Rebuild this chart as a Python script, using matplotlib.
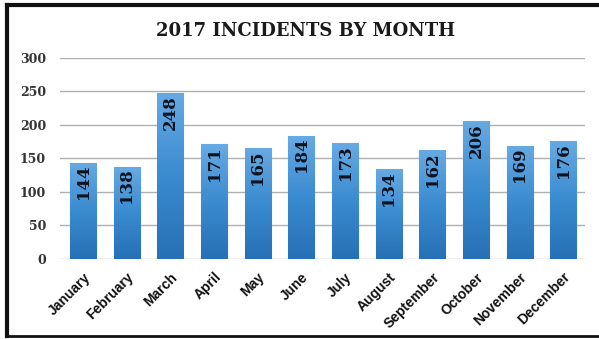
import numpy as np
import matplotlib.pyplot as plt
from matplotlib.lines import Line2D

months = ['January', 'February', 'March', 'April', 'May', 'June',
          'July', 'August', 'September', 'October', 'November', 'December']
incidents = [144, 138, 248, 171, 165, 184, 173, 134, 162, 206, 169, 176]
yticks = [0, 50, 100, 150, 200, 250, 300]

fig = plt.figure(figsize=(5.99, 3.39), dpi=100)
ax = fig.add_axes([0.100, 0.236, 0.877, 0.593])

x = np.arange(len(months))
bars = ax.bar(x, incidents, width=0.6, color='#3a8bd0', edgecolor='#7ab8ea',
              linewidth=0.8, zorder=2)

# vertical gradient inside each bar, lighter toward the top
grad = np.linspace(0, 1, 256).reshape(-1, 1)
cmap = plt.matplotlib.colors.LinearSegmentedColormap.from_list(
    'barblue', ['#2770b5', '#3a8bd0', '#68aae3'])
for b in bars:
    x0, w, h = b.get_x(), b.get_width(), b.get_height()
    im = ax.imshow(grad, extent=[x0, x0 + w, 0, h], origin='lower',
                   aspect='auto', cmap=cmap, zorder=3)
    im.set_clip_path(b)

for xi, v in zip(x, incidents):
    ax.text(xi, v - 3, str(v), rotation=90, ha='center', va='top',
            fontsize=12, fontweight='heavy', family='DejaVu Serif',
            color='#10131f', zorder=4)

ax.set_xlim(-0.53, 11.5)
ax.set_ylim(0, 300)
ax.set_yticks(yticks)
ax.set_yticklabels([str(t) for t in yticks], fontsize=9, fontweight='bold',
                   family='DejaVu Serif', color='#333333')
ax.set_xticks(x)
ax.set_xticklabels(months, rotation=45, ha='right', rotation_mode='anchor',
                   fontsize=10, fontweight='bold', family='Liberation Sans',
                   color='#111111')
ax.tick_params(length=0, pad=8)
ax.tick_params(axis='y', pad=10)
ax.grid(axis='y', color='#b0b0b0', linewidth=1.0, zorder=1)
for s in ax.spines.values():
    s.set_visible(False)

fig.text(0.51, 0.91, '2017 INCIDENTS BY MONTH', ha='center', va='center',
         fontsize=13, fontweight='bold', family='DejaVu Serif',
         color='#1a1a1a')

# frame around the chart
fig.add_artist(Line2D([0.012, 1.0], [0.985, 0.985], color='#111111', lw=3))
fig.add_artist(Line2D([0.012, 0.012], [0.008, 0.985], color='#111111', lw=3))
fig.add_artist(Line2D([0.012, 1.0], [0.008, 0.008], color='#111111', lw=2))

fig.savefig('out.png', dpi=100)
